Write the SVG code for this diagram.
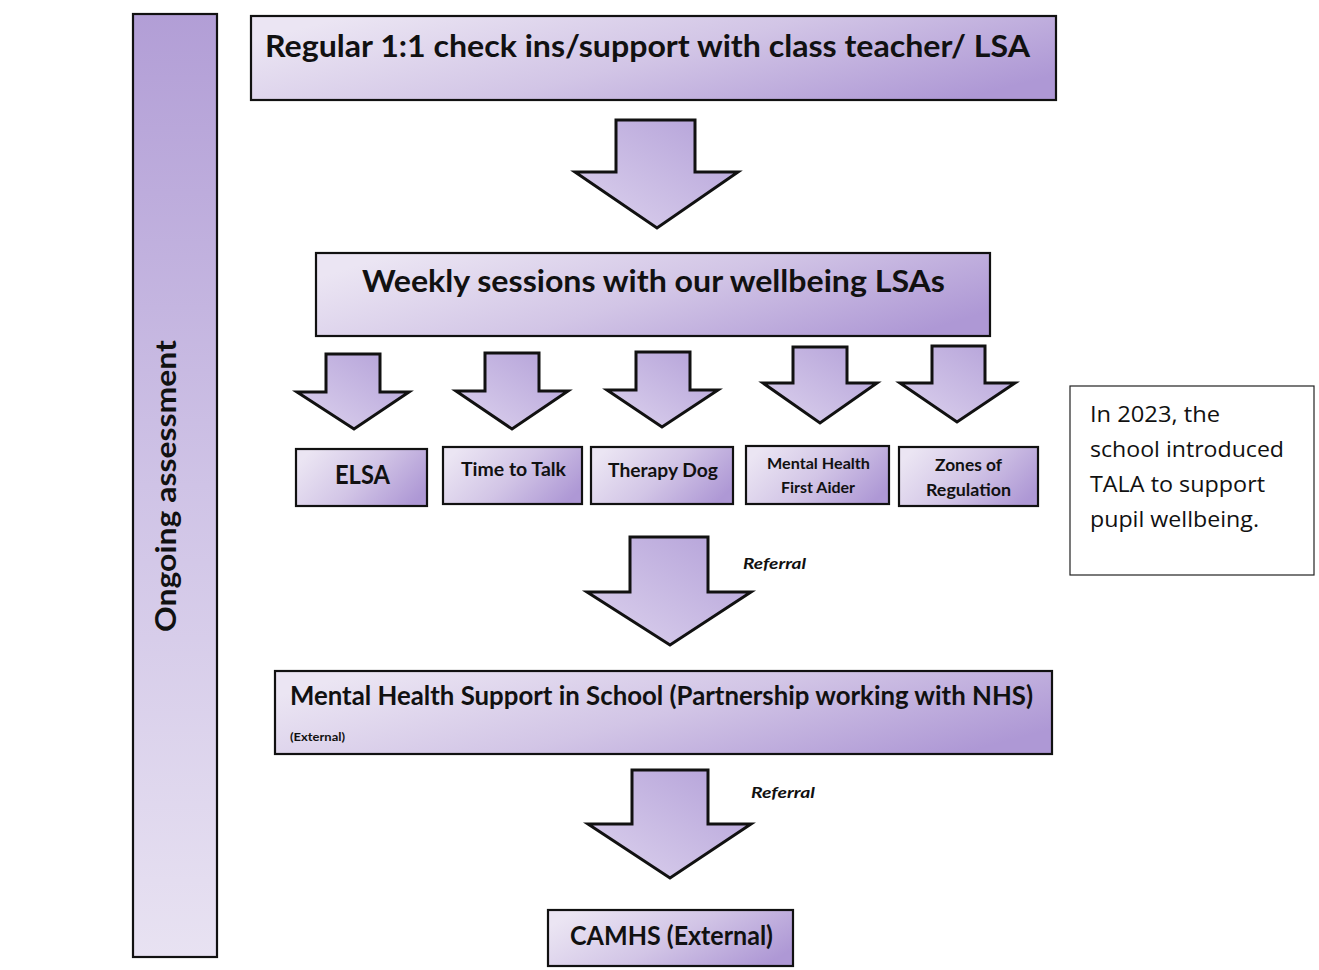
<svg xmlns="http://www.w3.org/2000/svg" width="1319" height="970" viewBox="0 0 1319 970">
<defs>
<linearGradient id="gBox" x1="0" y1="0.3" x2="1" y2="0.7">
<stop offset="0" stop-color="#ebe5f3"/>
<stop offset="0.5" stop-color="#d2c5e6"/>
<stop offset="1" stop-color="#ae98d5"/>
</linearGradient>
<linearGradient id="gArrow" x1="0" y1="1" x2="1" y2="0">
<stop offset="0" stop-color="#ddd3ee"/>
<stop offset="1" stop-color="#b3a0d8"/>
</linearGradient>
<linearGradient id="gBar" x1="0" y1="0" x2="0" y2="1">
<stop offset="0" stop-color="#b29ed6"/>
<stop offset="0.5" stop-color="#cfc3e6"/>
<stop offset="1" stop-color="#e8e2f2"/>
</linearGradient>
<style>
.box{fill:url(#gBox);stroke:#111;stroke-width:2.2}
.arr{fill:url(#gArrow);stroke:#111;stroke-width:3;stroke-linejoin:miter}
.t{font-family:Lato,"Open Sans","Liberation Sans",sans-serif;font-weight:700;fill:#111}
.ref{font-family:Lato,"Open Sans","Liberation Sans",sans-serif;font-weight:700;font-style:italic;fill:#111;font-size:15px}
.note{font-family:"Open Sans","Liberation Sans",sans-serif;font-size:21px;fill:#111}
</style>
</defs>
<rect width="1319" height="970" fill="#fff"/>

<g id="ongoing">
<rect x="133" y="14" width="84" height="943" fill="url(#gBar)" stroke="#111" stroke-width="2.2"/>
<text class="t" font-size="29" transform="translate(176,632) rotate(-90)" textLength="292" lengthAdjust="spacingAndGlyphs">Ongoing assessment</text>
</g>

<g id="regular">
<rect class="box" x="251" y="16" width="805" height="84"/>
<text class="t" x="265" y="57" font-size="30" textLength="765" lengthAdjust="spacingAndGlyphs">Regular 1:1 check ins/support with class teacher/ LSA</text>
</g>

<g id="weekly">
<rect class="box" x="316" y="253" width="674" height="83"/>
<text class="t" x="362" y="292" font-size="30" textLength="583" lengthAdjust="spacingAndGlyphs">Weekly sessions with our wellbeing LSAs</text>
</g>

<g id="elsa">
<rect class="box" x="296" y="449" width="131" height="57"/>
<text class="t" x="335" y="484" font-size="26" textLength="55" lengthAdjust="spacingAndGlyphs">ELSA</text>
</g>
<g id="timetotalk">
<rect class="box" x="443" y="447" width="139" height="57"/>
<text class="t" x="461" y="476" font-size="19" textLength="105" lengthAdjust="spacingAndGlyphs">Time to Talk</text>
</g>
<g id="therapydog">
<rect class="box" x="591" y="447" width="142" height="57"/>
<text class="t" x="608" y="477" font-size="19" textLength="110" lengthAdjust="spacingAndGlyphs">Therapy Dog</text>
</g>
<g id="mhfa">
<rect class="box" x="746" y="446" width="143" height="58"/>
<text class="t" x="767" y="469" font-size="16" textLength="103" lengthAdjust="spacingAndGlyphs">Mental Health</text>
<text class="t" x="781" y="493" font-size="16" textLength="74" lengthAdjust="spacingAndGlyphs">First Aider</text>
</g>
<g id="zones">
<rect class="box" x="899" y="447" width="139" height="59"/>
<text class="t" x="935" y="471" font-size="17" textLength="67" lengthAdjust="spacingAndGlyphs">Zones of</text>
<text class="t" x="926" y="496" font-size="17" textLength="85" lengthAdjust="spacingAndGlyphs">Regulation</text>
</g>

<g id="mhst">
<rect class="box" x="275" y="671" width="777" height="83"/>
<text class="t" x="290" y="705" font-size="26" textLength="743" lengthAdjust="spacingAndGlyphs">Mental Health Support in School (Partnership working with NHS)</text>
<text class="t" x="290" y="741" font-size="11" textLength="55" lengthAdjust="spacingAndGlyphs">(External)</text>
</g>

<g id="camhs">
<rect class="box" x="548" y="910" width="245" height="56"/>
<text class="t" x="570" y="945" font-size="27" textLength="203" lengthAdjust="spacingAndGlyphs">CAMHS (External)</text>
</g>

<g id="note">
<rect x="1070" y="386" width="244" height="189" fill="#fff" stroke="#222" stroke-width="1.2"/>
<text class="note" x="1090" y="422" textLength="130" lengthAdjust="spacingAndGlyphs">In 2023, the</text>
<text class="note" x="1090" y="457" textLength="194" lengthAdjust="spacingAndGlyphs">school introduced</text>
<text class="note" x="1090" y="492" textLength="175" lengthAdjust="spacingAndGlyphs">TALA to support</text>
<text class="note" x="1090" y="527" textLength="169" lengthAdjust="spacingAndGlyphs">pupil wellbeing.</text>
</g>

<g id="connectors">
<path class="arr" d="M616,120 H695 V172 H738 L657,228 L575,172 H616 Z"/>
<path class="arr" d="M326,354 H380 V392 H409 L354,429 L297,392 H326 Z"/>
<path class="arr" d="M485,353 H539 V391 H568 L512,429 L456,391 H485 Z"/>
<path class="arr" d="M636,352 H690 V390 H718 L662,427 L607,390 H636 Z"/>
<path class="arr" d="M793,347 H847 V383 H877 L820,423 L763,383 H793 Z"/>
<path class="arr" d="M932,346 H985 V383 H1015 L957,422 L900,383 H932 Z"/>
<path class="arr" d="M630,537 H708 V592 H751 L670,645 L587,592 H630 Z"/>
<text class="ref" x="743" y="569" textLength="63" lengthAdjust="spacingAndGlyphs">Referral</text>
<path class="arr" d="M632,770 H708 V824 H751 L670,878 L588,824 H632 Z"/>
<text class="ref" x="751" y="798" textLength="64" lengthAdjust="spacingAndGlyphs">Referral</text>
</g>
</svg>
